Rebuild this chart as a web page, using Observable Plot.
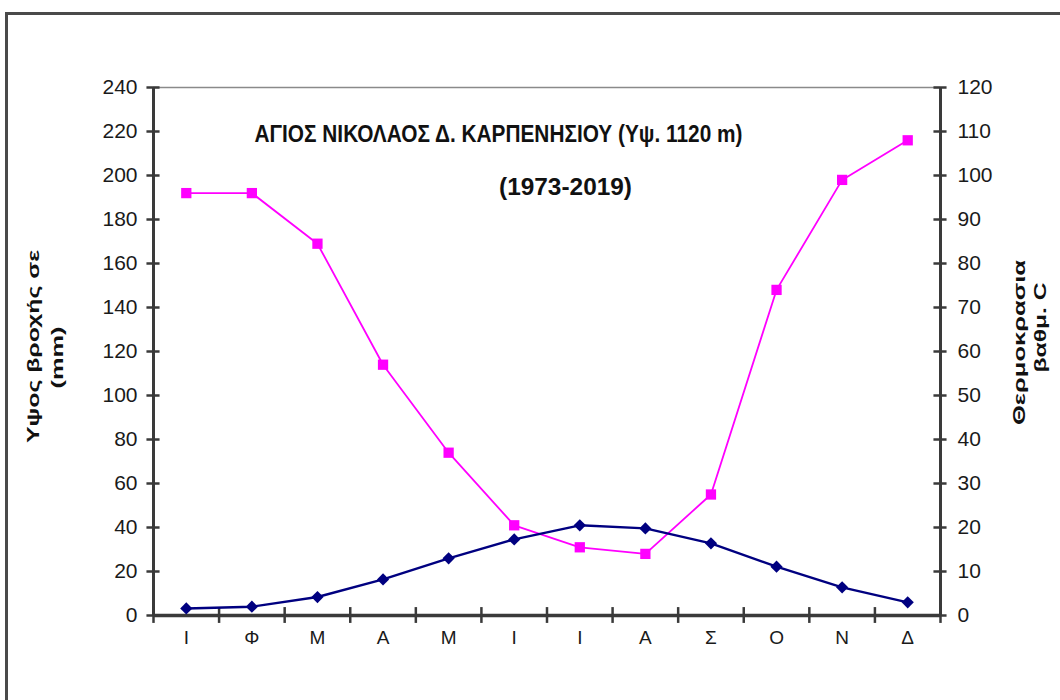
<!DOCTYPE html>
<html>
<head>
<meta charset="utf-8">
<script src="https://cdn.jsdelivr.net/npm/d3@7"></script>
<script src="https://cdn.jsdelivr.net/npm/@observablehq/plot@0.6"></script>
<style>
  html, body { margin: 0; padding: 0; background: #fff; }
  #wrap { position: relative; width: 1060px; height: 700px; overflow: hidden; }
  #frame { position: absolute; left: 5px; top: 12px; width: 1080px; height: 720px;
           border: 3px solid #4a4a4a; box-sizing: border-box; pointer-events: none; }
</style>
</head>
<body>
<div id="wrap"><div id="frame"></div></div>
<script>
const months = ["Ι", "Φ", "Μ", "Α", "Μ", "Ι", "Ι", "Α", "Σ", "Ο", "Ν", "Δ"];
const precipitation = [192, 192, 169, 114, 74, 41, 31, 28, 55, 148, 198, 216]; // mm, left axis
const temperature = [1.6, 2.0, 4.2, 8.2, 13.0, 17.3, 20.5, 19.8, 16.4, 11.1, 6.4, 3.0]; // °C, right axis
const leftTicks = [0, 20, 40, 60, 80, 100, 120, 140, 160, 180, 200, 220, 240];
const rightTicks = [0, 10, 20, 30, 40, 50, 60, 70, 80, 90, 100, 110, 120];
const titleLine1 = "ΑΓΙΟΣ ΝΙΚΟΛΑΟΣ Δ. ΚΑΡΠΕΝΗΣΙΟΥ (Υψ. 1120 m)";
const titleLine2 = "(1973-2019)";
const leftLabel = ["Υψος βροχής σε", "(mm)"];
const rightLabel = ["Θερμοκρασια", "βαθμ. C"];

const precipData = months.map((m, i) => ({i, m, v: precipitation[i]}));
const tempData = months.map((m, i) => ({i, m, v: temperature[i], y: temperature[i] * 2}));
const bounds = d3.range(0, months.length + 1);

const sans = "'Liberation Sans', Arial, sans-serif";
const axisColor = "#3a3a3a";
const labelStyle = {fontFamily: sans, fontSize: 17, fontWeight: "bold", fill: "#111", rotate: -90, textAnchor: "middle"};

const chart = Plot.plot({
  width: 1060,
  height: 700,
  marginLeft: 153,
  marginRight: 120,
  marginTop: 87,
  marginBottom: 85,
  style: {fontFamily: sans, background: "transparent", overflow: "visible"},
  x: {type: "linear", domain: [0, 12], axis: null},
  y: {domain: [0, 240], axis: null},
  marks: [
    // top plot-area border
    Plot.ruleY([240], {stroke: "#8a8a8a", strokeWidth: 1.5}),
    // left axis with crossing ticks
    Plot.ruleX([0], {stroke: axisColor, strokeWidth: 3}),
    Plot.ruleY(leftTicks, {y: d => d, x1: -0.1, x2: 0.1, stroke: axisColor, strokeWidth: 2.5}),
    Plot.text(leftTicks, {y: d => d, x: 0, text: d => String(d), textAnchor: "end", dx: -16,
      fontSize: 21, fill: "#1a1a1a"}),
    // right axis
    Plot.ruleX([12], {stroke: axisColor, strokeWidth: 3}),
    Plot.ruleY(rightTicks, {y: d => d * 2, x1: 11.9, x2: 12.1, stroke: axisColor, strokeWidth: 2.5}),
    Plot.text(rightTicks, {y: d => d * 2, x: 12, text: d => String(d), textAnchor: "start", dx: 17,
      fontSize: 21, fill: "#1a1a1a"}),
    // x axis
    Plot.ruleY([0], {stroke: axisColor, strokeWidth: 3.5}),
    Plot.ruleX(bounds, {x: d => d, y1: -3.6, y2: 3.6, stroke: axisColor, strokeWidth: 2.5}),
    Plot.text(precipData, {x: d => d.i + 0.5, y: 0, text: "m", dy: 22, fontSize: 19, fill: "#1a1a1a"}),
    // precipitation series
    Plot.line(precipData, {x: d => d.i + 0.5, y: "v", stroke: "#ff00ff", strokeWidth: 1.8}),
    Plot.dot(precipData, {x: d => d.i + 0.5, y: "v", symbol: "square", r: 5.8, fill: "#ff00ff", stroke: "none"}),
    // temperature series
    Plot.line(tempData, {x: d => d.i + 0.5, y: "y", stroke: "#000080", strokeWidth: 2.4}),
    Plot.dot(tempData, {x: d => d.i + 0.5, y: "y", symbol: "diamond2", r: 5.5, fill: "#000080", stroke: "none"}),
    // in-plot title
    Plot.text([titleLine1], {frameAnchor: "top-left", dx: 345, dy: 37, textAnchor: "middle",
      fontSize: 24, fontWeight: "bold", fill: "#111"}),
    Plot.text([titleLine2], {frameAnchor: "top-left", dx: 412, dy: 90, textAnchor: "middle",
      fontSize: 24, fontWeight: "bold", fill: "#111"}),
    // axis titles
    Plot.text([leftLabel[0]], {frameAnchor: "left", dx: -120, dy: -5, ...labelStyle}),
    Plot.text([leftLabel[1]], {frameAnchor: "left", dx: -96, dy: 6, ...labelStyle}),
    Plot.text([rightLabel[0]], {frameAnchor: "right", dx: 79, dy: -9, ...labelStyle}),
    Plot.text([rightLabel[1]], {frameAnchor: "right", dx: 100, dy: -24, ...labelStyle})
  ]
});

// squeeze / stretch texts to the proportions of the reference picture
const lengths = new Map([
  [titleLine1, 488], [titleLine2, 133],
  [leftLabel[0], 193], [leftLabel[1], 62],
  [rightLabel[0], 165], [rightLabel[1], 90]
]);
chart.querySelectorAll("text").forEach(t => {
  const len = lengths.get(t.textContent);
  if (len) { t.setAttribute("textLength", len); t.setAttribute("lengthAdjust", "spacingAndGlyphs"); }
});
document.getElementById("wrap").prepend(chart);
</script>
</body>
</html>
